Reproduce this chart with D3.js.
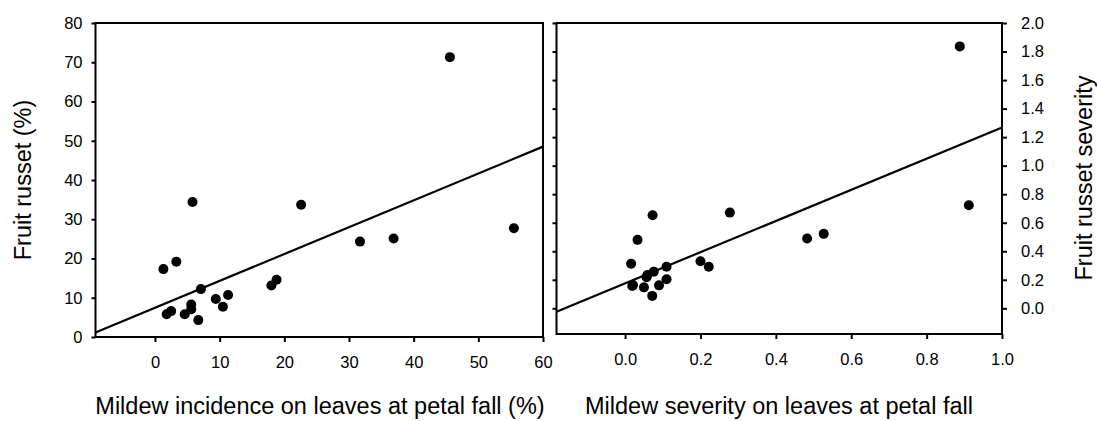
<!DOCTYPE html>
<html><head><meta charset="utf-8">
<script src="https://cdn.jsdelivr.net/npm/d3@7"></script>
<style>
html,body{margin:0;padding:0;background:#fff;}
svg{display:block;font-family:"Liberation Sans",Arial,sans-serif;}
</style></head>
<body><svg id="c" width="1097" height="421"></svg>
<script>
// Left panel data: mildew incidence (%) vs fruit russet (%)
const incidence = [45.6, 5.8, 22.6, 55.5, 31.7, 36.9, 1.3, 3.3, 7.1, 18.8, 18.0, 11.3, 9.4, 10.5, 5.6, 5.6, 4.6, 6.7, 1.8, 2.5];
const russetPct = [71.3, 34.4, 33.7, 27.7, 24.3, 25.1, 17.3, 19.2, 12.2, 14.6, 13.1, 10.7, 9.7, 7.7, 8.3, 7.1, 5.8, 4.3, 5.8, 6.6];
// Right panel data: mildew severity vs fruit russet severity
const severity = [0.888, 0.912, 0.073, 0.278, 0.033, 0.016, 0.200, 0.222, 0.483, 0.527, 0.110, 0.076, 0.059, 0.019, 0.050, 0.110, 0.090, 0.072, 0.057, 0.021];
const russetSev = [1.836, 0.723, 0.653, 0.671, 0.480, 0.313, 0.330, 0.292, 0.489, 0.522, 0.292, 0.257, 0.234, 0.157, 0.147, 0.204, 0.161, 0.087, 0.218, 0.164];
// Regression lines [intercept, slope]
const fitLeft = [7.46, 0.684];
const fitRight = [0.175, 1.093];
// Ticks
const xTicksLeft = [0, 10, 20, 30, 40, 50, 60];
const yTicksLeft = [0, 10, 20, 30, 40, 50, 60, 70, 80];
const xTicksRight = [0, 0.2, 0.4, 0.6, 0.8, 1.0];
const yTicksRight = [0, 0.2, 0.4, 0.6, 0.8, 1.0, 1.2, 1.4, 1.6, 1.8, 2.0];
const titles = {
  xLeft: "Mildew incidence on leaves at petal fall (%)",
  yLeft: "Fruit russet (%)",
  xRight: "Mildew severity on leaves at petal fall",
  yRight: "Fruit russet severity"
};

const svg = d3.select("#c");
const tickFont = 16.5, titleFont = 23.5;

const xL = d3.scaleLinear().domain([-9.2, 60]).range([95.5, 543]);
const yL = d3.scaleLinear().domain([0, 80]).range([337, 23]);
const xR = d3.scaleLinear().domain([-0.182, 1.0]).range([556.5, 1002]);
const yR = d3.scaleLinear().domain([-0.18, 2.0]).range([334, 23]);

function styleAxis(g){
  g.select(".domain").remove();
  g.selectAll(".tick line").attr("stroke","#000").attr("stroke-width",2);
  g.selectAll(".tick text").attr("fill","#000").style("font-size",tickFont+"px").style("font-family",'"Liberation Sans",Arial,sans-serif');
}

function panel(x, y, xs, ys, fit){
  const [x0,x1] = x.range(), [y0,y1] = y.range();
  svg.append("rect").attr("x",x0).attr("y",y1).attr("width",x1-x0).attr("height",y0-y1)
    .attr("fill","none").attr("stroke","#000").attr("stroke-width",2);
  const d = x.domain();
  svg.append("line")
    .attr("x1",x(d[0])).attr("y1",y(fit[0]+fit[1]*d[0]))
    .attr("x2",x(d[1])).attr("y2",y(fit[0]+fit[1]*d[1]))
    .attr("stroke","#000").attr("stroke-width",2.2);
  svg.append("g").selectAll("circle").data(xs.map((v,i)=>[v,ys[i]])).join("circle")
    .attr("cx",p=>x(p[0])).attr("cy",p=>y(p[1])).attr("r",5).attr("fill","#000");
}

panel(xL, yL, incidence, russetPct, fitLeft);
panel(xR, yR, severity, russetSev, fitRight);

// Left axes
svg.append("g").attr("transform","translate(0,337)")
  .call(d3.axisBottom(xL).tickValues(xTicksLeft).tickSize(5).tickSizeOuter(0).tickPadding(14).tickFormat(d3.format("d")))
  .call(styleAxis);
svg.append("g").attr("transform","translate(95.5,0)")
  .call(d3.axisLeft(yL).tickValues(yTicksLeft).tickSize(4).tickSizeOuter(0).tickPadding(9).tickFormat(d3.format("d")))
  .call(styleAxis);

// Right axes
svg.append("g").attr("transform","translate(0,334)")
  .call(d3.axisBottom(xR).tickValues(xTicksRight).tickSize(5).tickSizeOuter(0).tickPadding(14).tickFormat(d3.format(".1f")))
  .call(styleAxis);
svg.append("g").attr("transform","translate(556.5,0)")
  .call(d3.axisLeft(yR).tickValues(yTicksRight).tickSize(4).tickSizeOuter(0).tickFormat(""))
  .call(styleAxis);
svg.append("g").attr("transform","translate(1002,0)")
  .call(d3.axisRight(yR).tickValues(yTicksRight).tickSize(5).tickSizeOuter(0).tickPadding(14).tickFormat(d3.format(".1f")))
  .call(styleAxis);

// Titles
svg.append("text").attr("x",320).attr("y",414).attr("text-anchor","middle")
  .style("font-size",titleFont+"px").text(titles.xLeft);
svg.append("text").attr("x",779).attr("y",414).attr("text-anchor","middle")
  .style("font-size",titleFont+"px").text(titles.xRight);
svg.append("text").attr("transform","translate(31,180) rotate(-90)").attr("text-anchor","middle")
  .style("font-size",titleFont+"px").text(titles.yLeft);
svg.append("text").attr("transform","translate(1092,178) rotate(-90)").attr("text-anchor","middle")
  .style("font-size",titleFont+"px").text(titles.yRight);
</script></body></html>
